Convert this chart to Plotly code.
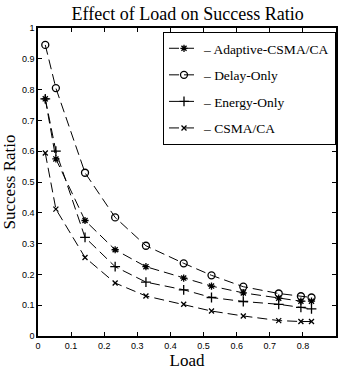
import plotly.graph_objects as go

load = [0.022, 0.054, 0.142, 0.233, 0.326, 0.44, 0.524, 0.62, 0.727, 0.794, 0.826]
adaptive = [0.77, 0.575, 0.375, 0.28, 0.225, 0.188, 0.162, 0.14, 0.123, 0.113, 0.113]
delay_only = [0.945, 0.805, 0.53, 0.385, 0.293, 0.236, 0.197, 0.16, 0.138, 0.129, 0.125]
energy_only = [0.77, 0.60, 0.32, 0.225, 0.175, 0.15, 0.125, 0.112, 0.103, 0.093, 0.088]
csma = [0.594, 0.412, 0.255, 0.172, 0.13, 0.103, 0.081, 0.065, 0.05, 0.047, 0.047]

names = ["– Adaptive-CSMA/CA", "– Delay-Only", "– Energy-Only", "– CSMA/CA"]
series = [adaptive, delay_only, energy_only, csma]
symbols = ["asterisk-open", "circle-open", "cross-thin-open", "x-thin-open"]
sizes = [6, 7, 7, 5]

fig = go.Figure()
for i, (n, s, sym, sz) in enumerate(zip(names, series, symbols, sizes)):
    fig.add_trace(go.Scatter(
        x=load, y=s, name=n, mode="lines+markers", legendgroup=f"g{i}",
        line=dict(color="black", width=1, dash="10px,5px"),
        marker=dict(symbol=sym, size=sz, color="black", line=dict(color="black", width=1.3)),
    ))

axis_common = dict(
    showline=True, linecolor="black", linewidth=1.5, mirror="ticks",
    ticks="inside", ticklen=4, tickcolor="black", showgrid=False, zeroline=False,
    tickfont=dict(family="Liberation Sans, Arial", size=9, color="black"),
    dtick=0.1, automargin=False,
)

fig.update_layout(
    width=338, height=372,
    margin=dict(l=38, r=2, t=28, b=36, autoexpand=False),
    paper_bgcolor="white", plot_bgcolor="white",
    title=dict(text="Effect of Load on Success Ratio", x=0.555, xanchor="center", y=0.962, yanchor="middle",
               font=dict(family="Liberation Serif, Times New Roman", size=18, color="black")),
    xaxis=dict(range=[0, 0.9], tick0=0,
               title=dict(text="Load", standoff=3, font=dict(family="Liberation Serif", size=17, color="black")),
               **axis_common),
    yaxis=dict(range=[0, 1], tick0=0,
               title=dict(text="Success Ratio", standoff=3, font=dict(family="Liberation Serif", size=17, color="black")),
               **axis_common),
    legend=dict(x=1.0, y=0.987, xanchor="right", yanchor="top",
                bgcolor="white", bordercolor="black", borderwidth=1,
                font=dict(family="Liberation Serif, Times New Roman", size=13.5, color="black"),
                itemwidth=30, tracegroupgap=6),
    showlegend=True,
)

fig.write_html("out.html")
